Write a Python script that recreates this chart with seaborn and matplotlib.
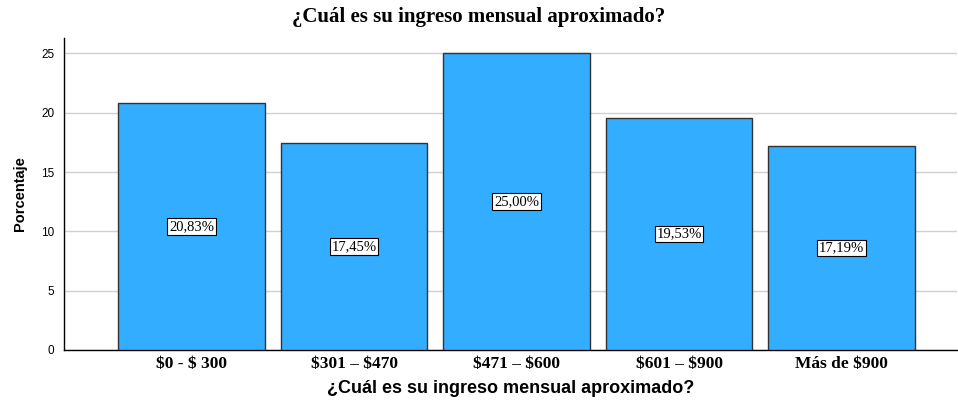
import matplotlib
matplotlib.use("Agg")
import matplotlib.pyplot as plt
import seaborn as sns
import pandas as pd

# data
categories = ['$0 - $ 300', '$301 – $470', '$471 – $600', '$601 – $900', 'Más de $900']
percentages = [20.83, 17.45, 25.00, 19.53, 17.19]
yticks = [0, 5, 10, 15, 20, 25]

df = pd.DataFrame({'cat': categories, 'pct': percentages})

sns.set_style('white')
plt.rcParams['font.family'] = ['Liberation Sans', 'DejaVu Sans']
plt.rcParams['text.parse_math'] = False
plt.rcParams['text.color'] = 'black'
plt.rcParams['axes.labelcolor'] = 'black'
plt.rcParams['xtick.color'] = 'black'
plt.rcParams['ytick.color'] = 'black'

fig = plt.figure(figsize=(9.58, 4), dpi=100)
ax = fig.add_axes([0.0668, 0.125, 0.932, 0.78])

sns.barplot(data=df, x='cat', y='pct', color='#33ADFF', width=0.9,
            edgecolor='#333333', linewidth=1, saturation=1, ax=ax, zorder=3)

ax.set_xlim(-0.785, 4.71)
ax.set_ylim(0, 26.3)
ax.set_yticks(yticks)
ax.set_yticklabels([str(t) for t in yticks], fontsize=8.5)
ax.yaxis.grid(True, color='#d0d0d0', linewidth=1, zorder=0)
ax.set_axisbelow(True)
ax.tick_params(axis='y', length=3, color='black', pad=4)
ax.tick_params(axis='x', length=0, pad=4)
for lab in ax.get_xticklabels():
    lab.set_fontfamily('Liberation Serif')
    lab.set_fontweight('bold')
    lab.set_fontsize(12.5)

for s in ['top', 'right']:
    ax.spines[s].set_visible(False)
for s in ['left', 'bottom']:
    ax.spines[s].set_color('black')
    ax.spines[s].set_linewidth(1)

# labels in the middle of each bar
for i, v in enumerate(percentages):
    txt = f'{v:.2f}%'.replace('.', ',')
    ax.text(i, v / 2, txt, ha='center', va='center', fontsize=10.5,
            family='Liberation Serif', zorder=5,
            bbox=dict(boxstyle='square,pad=0.12', fc='white', ec='black', lw=0.8))

ax.set_xlabel('¿Cuál es su ingreso mensual aproximado?', fontsize=13,
              fontweight='bold', labelpad=6)
ax.set_ylabel('Porcentaje', fontsize=10.5, fontweight='bold', labelpad=10,
              family=['Liberation Sans Narrow', 'Liberation Sans'])
fig.suptitle('¿Cuál es su ingreso mensual aproximado?', x=0.5, y=0.982,
             fontsize=15, fontweight='bold', family='Liberation Serif')

fig.savefig('out.png', dpi=100)
